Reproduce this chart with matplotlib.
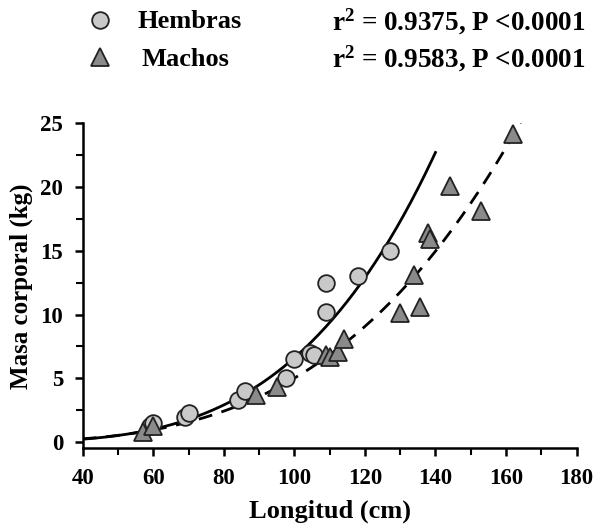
import numpy as np
import matplotlib
matplotlib.use("Agg")
import matplotlib.pyplot as plt
from matplotlib.lines import Line2D
from matplotlib.ticker import MultipleLocator

plt.rcParams["font.family"] = ["Liberation Serif", "DejaVu Serif"]
plt.rcParams["font.weight"] = "bold"
plt.rcParams["mathtext.default"] = "regular"

# Hembras (circles)
fem_len = [59, 60, 69, 70, 84, 86, 97.5, 100, 104.5, 105.5, 109, 109, 118, 127]
fem_mass = [1.3, 1.5, 2.0, 2.3, 3.3, 4.0, 5.0, 6.5, 7.0, 6.8, 10.2, 12.5, 13.0, 15.0]

# Machos (triangles)
mal_len = [57, 60, 89, 95, 109, 110, 112.5, 114, 130, 134, 135.5, 138, 138.5, 144, 153, 162]
mal_mass = [0.8, 1.3, 3.7, 4.3, 6.8, 6.7, 7.1, 8.1, 10.1, 13.1, 10.6, 16.4, 15.9, 20.1, 18.1, 24.2]

# power-law fits: masa = a * longitud^b
fem_a, fem_b = 3.02e-7, 3.67
mal_a, mal_b = 1.586e-6, 3.25
fem_range = (40, 140)
mal_range = (40, 165)

fem_stats = "r$^{2}$ = 0.9375, P <0.0001"
mal_stats = "r$^{2}$ = 0.9583, P <0.0001"

fig = plt.figure(figsize=(5.95, 5.27), dpi=100)
ax = fig.add_axes([0.139, 0.149, 0.830, 0.617])

xf = np.linspace(*fem_range, 200)
xm = np.linspace(*mal_range, 200)
ax.plot(xf, fem_a * xf ** fem_b, color="black", lw=2, zorder=2)
ax.plot(xm, mal_a * xm ** mal_b, color="black", lw=2, dashes=(5, 3.5), zorder=2)

circ_style = dict(marker="o", ms=12, mfc="#c9c9c9", mec="#222222", mew=1.3, ls="none")
tri_style = dict(marker="^", ms=12.5, mfc="#8a8a8a", mec="#222222", mew=1.3, ls="none")
ax.plot(fem_len, fem_mass, zorder=3, **circ_style)
ax.plot(mal_len, mal_mass, zorder=3, **tri_style)

ax.set_xlim(40, 180)
ax.set_ylim(-0.5, 25)
ax.spines["top"].set_visible(False)
ax.spines["right"].set_visible(False)
for s in ("left", "bottom"):
    ax.spines[s].set_linewidth(1.8)

ax.xaxis.set_major_locator(MultipleLocator(20))
ax.xaxis.set_minor_locator(MultipleLocator(10))
ax.yaxis.set_minor_locator(MultipleLocator(2.5))
ax.set_yticks(np.arange(0, 26, 5))
ax.tick_params(which="major", length=6, width=1.8, labelsize=16.5)
ax.tick_params(axis="x", which="major", pad=8)
ax.tick_params(axis="y", which="major", pad=8)
ax.tick_params(which="minor", length=5, width=1.5)
for lab in ax.get_xticklabels() + ax.get_yticklabels():
    lab.set_fontweight("bold")

ax.set_xlabel("Longitud (cm)", fontsize=19, fontweight="bold", labelpad=8)
ax.set_ylabel("Masa corporal (kg)", fontsize=18, fontweight="bold", labelpad=5)

# legend block above the axes
W, H = 595, 527
fig.add_artist(Line2D([100 / W], [1 - 20 / H], transform=fig.transFigure, **circ_style))
fig.add_artist(Line2D([100 / W], [1 - 57 / H], transform=fig.transFigure, **tri_style))
fig.text(137 / W, 1 - 22 / H, "Hembras", fontsize=19, fontweight="bold", va="center")
fig.text(141 / W, 1 - 59 / H, "Machos", fontsize=19, fontweight="bold", va="center")
fig.text(586 / W, 1 - 22 / H, fem_stats, fontsize=19.5, fontweight="bold", va="center", ha="right")
fig.text(586 / W, 1 - 59 / H, mal_stats, fontsize=19.5, fontweight="bold", va="center", ha="right")

fig.savefig("out.png", dpi=100)
